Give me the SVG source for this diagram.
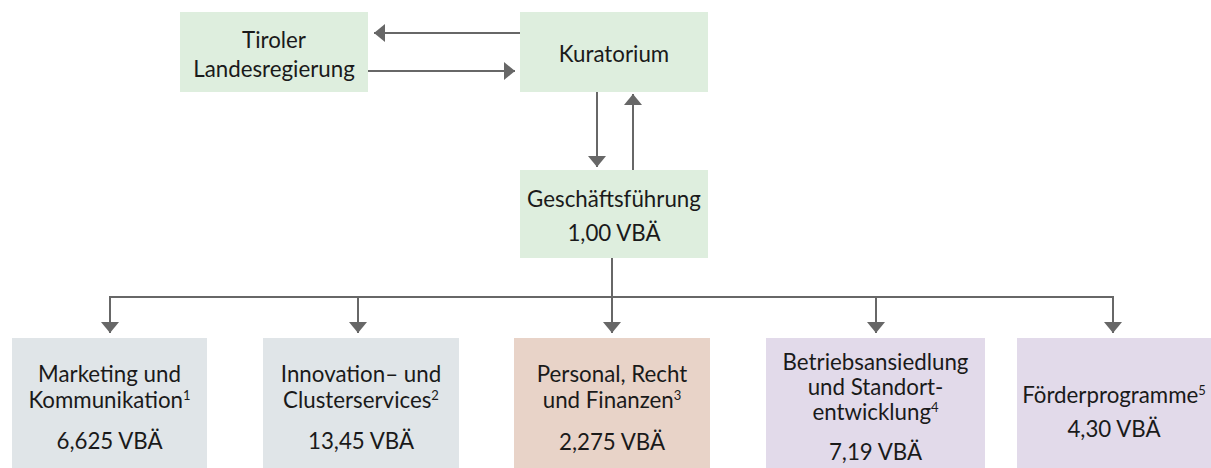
<svg xmlns="http://www.w3.org/2000/svg" width="1211" height="468" viewBox="0 0 1211 468">
<style>
text{font-family:"Lato","Liberation Sans",sans-serif;font-size:22.3px;fill:#1a1a1a;text-anchor:middle}
.sup{font-size:13px}
.green{fill:#deeede}
.gray{fill:#e0e5e8}
.peach{fill:#e8d3c8}
.lav{fill:#e2daea}
.conn{stroke:#676767;stroke-width:2;fill:none}
</style>
<defs>
<marker id="ah" markerUnits="userSpaceOnUse" markerWidth="11" markerHeight="18" refX="11" refY="9" orient="auto">
<path d="M0,0 L11,9 L0,18 z" fill="#676767"/>
</marker>
</defs>
<rect width="1211" height="468" fill="#fff"/>
<g id="tiroler"><rect class="green" x="180" y="12" width="188" height="80"/><text x="274" y="48">Tiroler</text><text x="274" y="77">Landesregierung</text></g>
<g id="kuratorium"><rect class="green" x="520" y="12" width="188" height="80"/><text x="614" y="62">Kuratorium</text></g>
<g id="gf"><rect class="green" x="520" y="170" width="188" height="88"/><text x="614" y="207">Geschäftsführung</text><text x="614" y="241">1,00 VBÄ</text></g>
<g id="marketing"><rect class="gray" x="12" y="338" width="195" height="130"/><text x="109.5" y="382">Marketing und</text><text x="109.5" y="408">Kommunikation<tspan class="sup" dy="-8">1</tspan></text><text x="109.5" y="449">6,625 VBÄ</text></g>
<g id="innovation"><rect class="gray" x="263" y="338" width="196" height="130"/><text x="361" y="382">Innovation– und</text><text x="361" y="408">Clusterservices<tspan class="sup" dy="-8">2</tspan></text><text x="361" y="449">13,45 VBÄ</text></g>
<g id="personal"><rect class="peach" x="514" y="338" width="196" height="130"/><text x="612" y="382">Personal, Recht</text><text x="612" y="408">und Finanzen<tspan class="sup" dy="-8">3</tspan></text><text x="612" y="450">2,275 VBÄ</text></g>
<g id="betrieb"><rect class="lav" x="766" y="338" width="219" height="130"/><text x="875.5" y="370">Betriebsansiedlung</text><text x="875.5" y="395">und Standort-</text><text x="875.5" y="420">entwicklung<tspan class="sup" dy="-8">4</tspan></text><text x="875.5" y="460">7,19 VBÄ</text></g>
<g id="foerder"><rect class="lav" x="1017" y="338" width="194" height="130"/><text x="1114" y="403">Förderprogramme<tspan class="sup" dy="-8">5</tspan></text><text x="1114" y="437">4,30 VBÄ</text></g>
<g id="connectors">
<line class="conn" x1="520" y1="33" x2="374" y2="33" marker-end="url(#ah)"/>
<line class="conn" x1="368" y1="71" x2="515" y2="71" marker-end="url(#ah)"/>
<line class="conn" x1="597" y1="92" x2="597" y2="167" marker-end="url(#ah)"/>
<line class="conn" x1="633" y1="170" x2="633" y2="94" marker-end="url(#ah)"/>
<polyline class="conn" points="612,258 612,297"/>
<polyline class="conn" points="110,333 110,297 1113,297 1113,333"/>
<line class="conn" x1="110" y1="297" x2="110" y2="333" marker-end="url(#ah)"/>
<line class="conn" x1="358" y1="297" x2="358" y2="333" marker-end="url(#ah)"/>
<line class="conn" x1="612" y1="297" x2="612" y2="333" marker-end="url(#ah)"/>
<line class="conn" x1="876" y1="297" x2="876" y2="333" marker-end="url(#ah)"/>
<line class="conn" x1="1113" y1="297" x2="1113" y2="333" marker-end="url(#ah)"/>
</g>
</svg>
